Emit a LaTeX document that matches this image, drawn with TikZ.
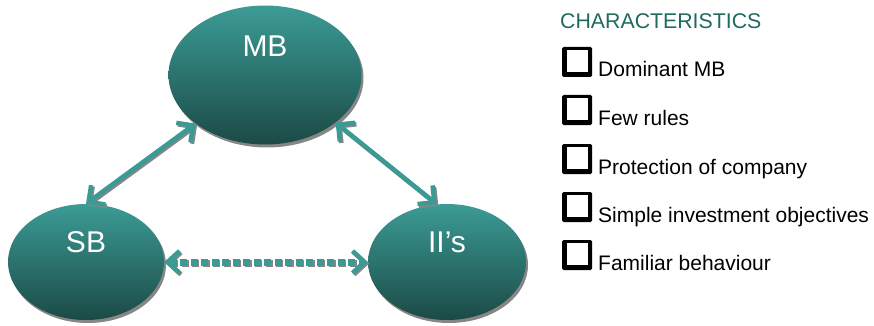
\documentclass[tikz,border=0pt]{standalone}
\usepackage{fontspec}
\setmainfont{Liberation Sans}
\usetikzlibrary{shapes.geometric,arrows.meta,calc}
\definecolor{tealA}{HTML}{3C9B95}
\definecolor{tealB}{HTML}{2F807B}
\definecolor{tealC}{HTML}{1B4A46}
\definecolor{arrowteal}{HTML}{3A9A94}
\definecolor{shadowgray}{HTML}{868686}
\definecolor{headteal}{HTML}{1F6A5F}
\tikzset{
  bubble/.style={ellipse, inner sep=0pt, top color=tealA, middle color=tealB, bottom color=tealC, shading angle=0},
  bubshadow/.style={ellipse, inner sep=0pt, fill=shadowgray},
  bubtext/.style={text=white, inner sep=0pt, anchor=base, font=\fontsize{30}{32}\selectfont},
  link/.style={line width=4.5pt, {Straight Barb[length=12pt,width=24pt,line width=4.5pt]}-{Straight Barb[length=12pt,width=24pt,line width=4.5pt]}},
  dotlink/.style={line width=7pt, dash pattern=on 7pt off 3.5pt, {Straight Barb[length=12pt,width=22pt,line width=4.5pt]}-{Straight Barb[length=12pt,width=22pt,line width=4.5pt]}},
  item/.style={anchor=base west, inner sep=0pt, font=\fontsize{21}{24}\selectfont},
}
\newcommand{\chkbox}[2]{%
  \fill[black, rounded corners=1.5pt] (#1,#2) rectangle (#1+30,#2+30);
  \fill[white] (#1+5,#2+3) rectangle (#1+26,#2+25);
}
\begin{document}
\begin{tikzpicture}[x=1pt,y=-1pt]
\useasboundingbox (0,0) rectangle (874,326);
% shadows
\node[bubshadow, minimum width=193pt, minimum height=139pt] (mbs) at (267,78) {};
\node[bubshadow, minimum width=156pt, minimum height=116pt] (sbs) at (88,265) {};
\node[bubshadow, minimum width=158pt, minimum height=116pt] (iis) at (449,265) {};
% bubbles
\node[bubble, minimum width=193pt, minimum height=139pt] (mb) at (265,75) {};
\node[bubble, minimum width=156pt, minimum height=116pt] (sb) at (86,262) {};
\node[bubble, minimum width=158pt, minimum height=116pt] (ii) at (447,262) {};
\node[bubtext] (mbt) at (265,57) {MB};
\node[bubtext] (sbt) at (86,252) {SB};
\node[bubtext] (iit) at (447,252) {II’s};
% connectors: shadows then teal
\draw[link, shadowgray] ($(sb.north)+(1.5,1.5)$) -- ($(mb.215)+(1.5,1.5)$);
\draw[link, arrowteal] (sb.north) -- (mb.215);
\draw[link, shadowgray] ($(mb.-34)+(1.5,1.5)$) -- ($(ii.100)+(1.5,1.5)$);
\draw[link, arrowteal] (mb.-34) -- (ii.100);
\draw[dotlink, shadowgray] ($(sb.east)+(1.5,1.5)$) -- ($(ii.west)+(1.5,1.5)$);
\draw[dotlink, arrowteal] (sb.east) -- (ii.west);
% characteristics
\node[anchor=base west, inner sep=0pt, text=headteal, font=\fontsize{21.3}{24}\selectfont] (head) at (560,29) {CHARACTERISTICS};
\chkbox{562}{47}
\chkbox{562}{95}
\chkbox{562}{144}
\chkbox{562}{192}
\chkbox{562}{240}
\node[item] (i1) at (598,77) {Dominant MB};
\node[item] (i2) at (598,125) {Few rules};
\node[item] (i3) at (598,174) {Protection of company};
\node[item] (i4) at (598,222) {Simple investment objectives};
\node[item] (i5) at (598,270) {Familiar behaviour};
\end{tikzpicture}
\end{document}
